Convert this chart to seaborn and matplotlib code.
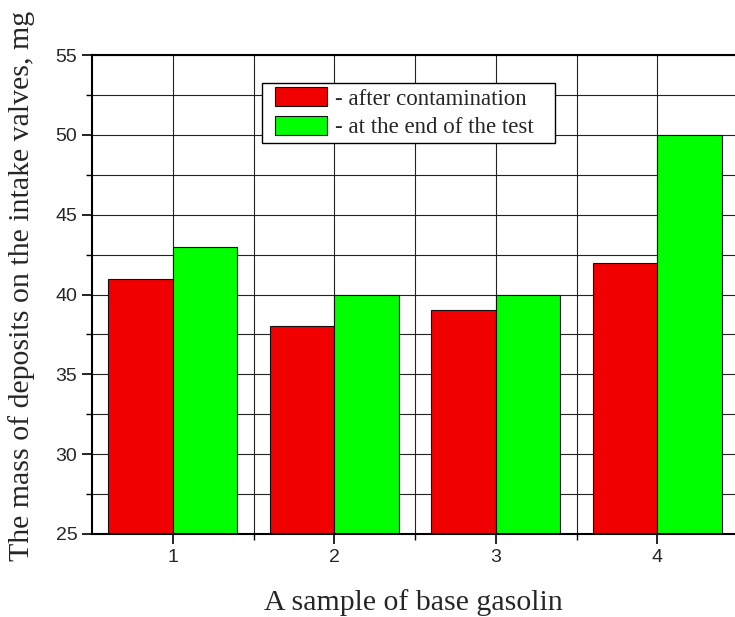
import matplotlib
matplotlib.use("Agg")
import matplotlib.pyplot as plt
import seaborn as sns
import pandas as pd
from matplotlib.ticker import MultipleLocator, FixedLocator
from matplotlib.path import Path

samples = ["1", "2", "3", "4"]
after_contamination = [41, 38, 39, 42]
end_of_test = [43, 40, 40, 50]
series_names = ["- after contamination", "- at the end of the test"]
colors = ["#f00000", "#00ff00"]

df = pd.DataFrame({
    "sample": samples * 2,
    "mass": after_contamination + end_of_test,
    "series": [series_names[0]] * 4 + [series_names[1]] * 4,
})

sns.set_style("ticks")
plt.rcParams["font.family"] = ["Liberation Sans", "DejaVu Sans"]

fig = plt.figure(figsize=(7.35, 6.17), dpi=100)
ax = fig.add_axes([92/735, 1-534/617, (738-92)/735, (534-55)/617])

sns.barplot(data=df, x="sample", y="mass", hue="series", palette=colors,
            saturation=1, width=0.8, gap=0, edgecolor="#111111", linewidth=0.8,
            ax=ax, legend=True)

ax.set_ylim(25, 55)
ax.set_xlim(-0.5, 3.5)
ax.yaxis.set_major_locator(MultipleLocator(5))
ax.yaxis.set_minor_locator(MultipleLocator(2.5))
ax.xaxis.set_minor_locator(FixedLocator([0.5, 1.5, 2.5]))
ax.set_axisbelow(True)
ax.grid(which="both", color="#222222", linewidth=0.8)
ax.tick_params(which="major", direction="out", length=7, width=1.2, pad=3.5,
               labelsize=14, color="black")
ax.tick_params(which="minor", direction="out", length=4, width=1.0, color="black")
for s in ax.spines.values():
    s.set_color("black")
    s.set_linewidth(1.5)

serif = ["Liberation Serif", "DejaVu Serif"]
ax.set_xlabel("A sample of base gasolin", family=serif, fontsize=21.5)
ax.set_ylabel("The mass of deposits on the intake valves, mg", family=serif, fontsize=21.5)
ax.xaxis.set_label_coords(0.498, -0.114)
ax.yaxis.set_label_coords(-0.088, 0.518)


def wide_box(x0, y0, width, height, mutation_size):
    left = 0.38 * mutation_size
    right = 0.74 * mutation_size
    x1, y1 = x0 + width, y0 + height
    verts = [(x0 - left, y0), (x1 + right, y0), (x1 + right, y1), (x0 - left, y1), (x0 - left, y0)]
    codes = [Path.MOVETO, Path.LINETO, Path.LINETO, Path.LINETO, Path.CLOSEPOLY]
    return Path(verts, codes)


handles, labels = ax.get_legend_handles_labels()
leg = ax.legend(handles, labels, loc="upper left", bbox_to_anchor=(270.7/735, 1-83/617),
                bbox_transform=fig.transFigure, borderaxespad=0, frameon=True, fancybox=False,
                edgecolor="black", framealpha=1, prop={"family": serif, "size": 16.5},
                handlelength=2.27, handleheight=0.87, handletextpad=0.35, labelspacing=0.29,
                borderpad=0.19)
leg.get_frame().set_boxstyle(wide_box)
leg.get_frame().set_linewidth(1.0)

fig.savefig("out.png", dpi=100)
